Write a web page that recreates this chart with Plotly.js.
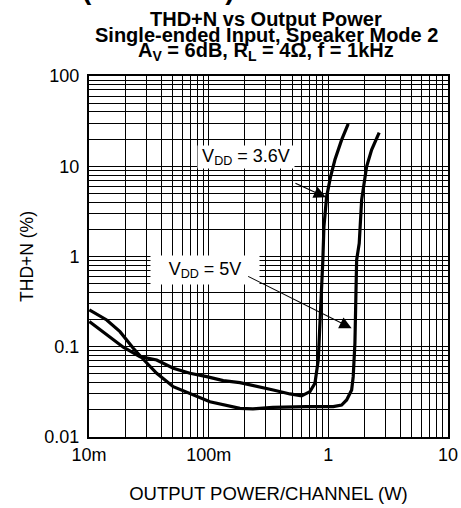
<!DOCTYPE html>
<html>
<head>
<meta charset="utf-8">
<script src="https://cdn.plot.ly/plotly-3.0.1.min.js"></script>
<style>
html,body{margin:0;padding:0;background:#fff;}
#chart{width:461px;height:508px;}
</style>
</head>
<body>
<div id="chart"></div>
<script>
// ---- data ----
const seriesNames = ['VDD = 3.6V', 'VDD = 5V'];

const power36 = [0.01006, 0.01406, 0.01935, 0.02667, 0.0368, 0.0506, 0.0698, 0.0962, 0.1324, 0.1826, 0.2518, 0.3465, 0.478, 0.598, 0.702, 0.773, 0.824, 0.851, 0.879, 0.900, 0.919, 0.968, 1.045, 1.135, 1.291, 1.466];
const thd36   = [0.19, 0.135, 0.0987, 0.0777, 0.0714, 0.0577, 0.0508, 0.0466, 0.0421, 0.040, 0.0368, 0.0332, 0.030, 0.0285, 0.0318, 0.0394, 0.0714, 0.167, 0.392, 0.917, 2.15, 4.61, 7.69, 11.8, 19.6, 29.5];

const power5 = [0.01006, 0.01406, 0.01815, 0.02345, 0.0284, 0.0368, 0.0506, 0.0698, 0.1025, 0.1826, 0.2344, 0.344, 0.478, 0.659, 1.099, 1.291, 1.422, 1.566, 1.614, 1.668, 1.701, 1.724, 1.812, 1.898, 2.089, 2.30, 2.66];
const thd5   = [0.256, 0.198, 0.147, 0.0962, 0.0727, 0.0508, 0.0361, 0.0305, 0.0246, 0.0208, 0.0205, 0.0213, 0.0217, 0.0217, 0.0217, 0.0226, 0.0257, 0.0332, 0.0466, 0.109, 0.395, 0.917, 1.40, 4.24, 9.93, 15.2, 23.6];

const xLabelVals = [0.01, 0.1, 1, 10];
const xLabelText = ['10m', '100m', '1', '10'];
const yLabelVals = [0.01, 0.1, 1, 10, 100];
const yLabelText = ['0.01', '0.1', '1', '10', '100'];

const pageHeading = 'Characteristics (continued)';
const titleLines = ['THD+N vs Output Power', 'Single-ended Input, Speaker Mode 2', 'A<sub>V</sub> = 6dB, R<sub>L</sub> = 4Ω, f = 1kHz'];
const xTitle = 'OUTPUT POWER/CHANNEL (W)';
const yTitle = 'THD+N (%)';
const label36 = 'V<sub>DD</sub> = 3.6V';
const label5 = 'V<sub>DD</sub> = 5V';

// ---- grid tick positions (1..9 per decade) ----
function gridTicks(lo, hi, labVals, labText) {
  const vals = [], text = [];
  const lab = v => {
    const i = labVals.findIndex(t => Math.abs(t - v) / t < 1e-6);
    return i >= 0 ? labText[i] : '';
  };
  for (let d = lo; d < hi; d++) {
    for (let m = 1; m <= 9; m++) {
      const v = parseFloat((m * Math.pow(10, d)).toPrecision(6));
      vals.push(v); text.push(lab(v));
    }
  }
  const top = Math.pow(10, hi);
  vals.push(top); text.push(lab(top));
  return {vals, text};
}
const xg = gridTicks(-2, 1, xLabelVals, xLabelText);
const yg = gridTicks(-2, 2, yLabelVals, yLabelText);

const FONT = 'Liberation Sans, Arial, Helvetica, sans-serif';
const L = Math.log10;

// plot area in px (for placing the texts outside it)
const PL = 89, PT = 76, PW = 359, PH = 361;
const yPaper = py => (PT + PH - py) / PH;
const xPaper = px => (px - PL) / PW;

const traces = [
  {x: power36, y: thd36, name: seriesNames[0], type: 'scatter', mode: 'lines',
   line: {color: '#000', width: 3.2}},
  {x: power5, y: thd5, name: seriesNames[1], type: 'scatter', mode: 'lines',
   line: {color: '#000', width: 3.2}}
];

const annotations = [
  // cropped page heading at very top
  {text: '<b>' + pageHeading + '</b>', xref: 'paper', yref: 'paper',
   x: xPaper(237), y: yPaper(7), xanchor: 'right', yanchor: 'bottom', showarrow: false,
   font: {family: FONT, size: 28, color: '#000'}},
  // title lines
  {text: '<b>' + titleLines[0] + '</b>', xref: 'paper', yref: 'paper', showarrow: false,
   x: xPaper(266), y: yPaper(18.5), xanchor: 'center', yanchor: 'middle', font: {family: FONT, size: 20, color: '#000'}},
  {text: '<b>' + titleLines[1] + '</b>', xref: 'paper', yref: 'paper', showarrow: false,
   x: xPaper(266), y: yPaper(35), xanchor: 'center', yanchor: 'middle', font: {family: FONT, size: 20, color: '#000'}},
  {text: '<b>' + titleLines[2] + '</b>', xref: 'paper', yref: 'paper', showarrow: false,
   x: xPaper(266), y: yPaper(51.5), xanchor: 'center', yanchor: 'middle', font: {family: FONT, size: 20, color: '#000'}},
  // series labels
  {text: label36, xref: 'x', yref: 'y', x: L(0.2051), y: L(12.6), showarrow: false,
   bgcolor: '#fff', borderpad: 0, width: 96, height: 22,
   font: {family: FONT, size: 18, color: '#000'}},
  {text: label5, xref: 'x', yref: 'y', x: L(0.0931), y: L(0.70), showarrow: false,
   bgcolor: '#fff', borderpad: 0, width: 108, height: 28,
   font: {family: FONT, size: 18, color: '#000'}},
  // arrows
  {text: '', xref: 'x', yref: 'y', axref: 'x', ayref: 'y',
   x: L(0.955), y: L(4.54), ax: L(0.516), ay: L(6.59),
   showarrow: true, arrowhead: 2, arrowsize: 2.2, arrowwidth: 1.1, arrowcolor: '#000'},
  {text: '', xref: 'x', yref: 'y', axref: 'x', ayref: 'y',
   x: L(1.566), y: L(0.1603), ax: L(0.2077), ay: L(0.614),
   showarrow: true, arrowhead: 2, arrowsize: 2.2, arrowwidth: 1.1, arrowcolor: '#000'}
];

const axisCommon = {
  type: 'log', showline: true, mirror: true, linecolor: '#000', linewidth: 2,
  showgrid: true, gridcolor: '#000', gridwidth: 1, zeroline: false,
  ticks: '', tickfont: {family: FONT, size: 18, color: '#000'}
};

const layout = {
  width: 461, height: 508,
  margin: {l: PL, r: 461 - PL - PW, t: PT, b: 508 - PT - PH, pad: 0},
  paper_bgcolor: '#fff', plot_bgcolor: '#fff',
  showlegend: false,
  font: {family: FONT, color: '#000'},
  xaxis: Object.assign({}, axisCommon, {
    range: [-2, 1], tickmode: 'array', tickvals: xg.vals, ticktext: xg.text,
    ticklabelstandoff: 0,
    title: {text: xTitle, font: {family: FONT, size: 18.5, color: '#000'}, standoff: 23}
  }),
  yaxis: Object.assign({}, axisCommon, {
    range: [-2, 2], tickmode: 'array', tickvals: yg.vals, ticktext: yg.text,
    ticklabelstandoff: 4,
    title: {text: yTitle, font: {family: FONT, size: 17.5, color: '#000'}, standoff: 6}
  }),
  annotations: annotations
};

Plotly.newPlot('chart', traces, layout, {displayModeBar: false, staticPlot: true});
</script>
</body>
</html>
